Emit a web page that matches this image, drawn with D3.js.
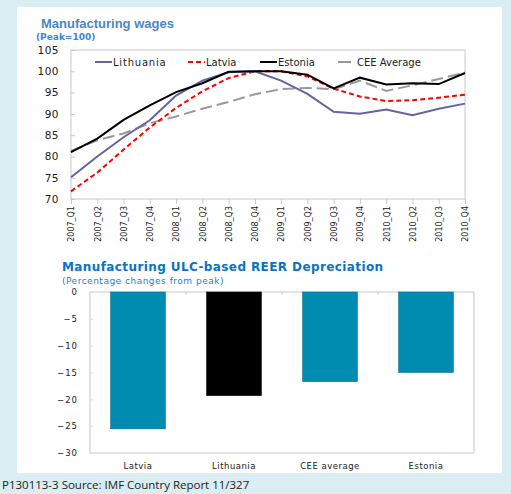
<!DOCTYPE html>
<html><head><meta charset="utf-8">
<script src="https://cdnjs.cloudflare.com/ajax/libs/d3/7.8.5/d3.min.js"></script>
<style>body{margin:0;background:#daedf3;}svg{display:block;}</style>
</head><body>
<svg id="c" width="511" height="494"></svg>
<script>
const quarters = ["2007_Q1","2007_Q2","2007_Q3","2007_Q4","2008_Q1","2008_Q2","2008_Q3","2008_Q4","2009_Q1","2009_Q2","2009_Q3","2009_Q4","2010_Q1","2010_Q2","2010_Q3","2010_Q4"];
const lithuania = [75.1,80.0,84.5,88.5,94.3,97.8,99.8,100,97.8,94.7,90.5,90.0,91.0,89.7,91.2,92.4];
const latvia    = [71.8,76.2,81.6,86.8,91.4,95.3,98.4,100,100,98.8,95.9,94.1,93.0,93.2,93.8,94.5];
const estonia   = [81.0,84.2,88.6,92.0,95.1,97.2,99.9,100,100,99.2,96.0,98.5,96.9,97.2,97.0,99.6];
const ceeAvg    = [81.3,83.8,85.4,87.8,89.4,91.2,92.8,94.6,95.8,96.1,95.8,97.8,95.4,96.7,98.2,99.7];
const wageTicks = [70,75,80,85,90,95,100,105];

const reerCats = ["Latvia","Lithuania","CEE average","Estonia"];
const reerVals = [-25.5,-19.3,-16.7,-15.0];
const reerTicks = [0,-5,-10,-15,-20,-25,-30];

const svg = d3.select("#c");
svg.append("rect").attr("x",17).attr("y",7).attr("width",485).attr("height",466).attr("fill","#fff");

// ---------- Top chart ----------
const L = {l:71, r:465, t:50, b:199};
const x1 = d3.scalePoint().domain(quarters).range([L.l, L.r]);
const y1 = d3.scaleLinear().domain([70,105]).range([L.b, L.t]);

svg.append("text").attr("x",41).attr("y",28).attr("font-family","Liberation Sans, Arial, sans-serif")
  .attr("font-size",13).attr("font-weight","bold").attr("fill","#4a86c8").text("Manufacturing wages");
svg.append("text").attr("x",36).attr("y",39.5).attr("font-family","DejaVu Sans, sans-serif")
  .attr("font-size",9).attr("font-weight","bold").attr("fill","#3b86d0").text("(Peak=100)");

svg.append("rect").attr("x",L.l).attr("y",L.t).attr("width",L.r-L.l).attr("height",L.b-L.t)
  .attr("fill","none").attr("stroke","#c8c8c8");

const yAx1 = svg.append("g").attr("transform",`translate(${L.l},0)`)
  .call(d3.axisLeft(y1).tickValues(wageTicks).tickSize(-4).tickPadding(12));
yAx1.select(".domain").remove();
yAx1.selectAll("line").attr("stroke","#c8c8c8");
yAx1.selectAll("text").attr("font-family","DejaVu Sans, sans-serif").attr("font-size",10.5).attr("fill","#222").attr("letter-spacing","0.5");

const xAx1 = svg.append("g").attr("transform",`translate(0,${L.b})`)
  .call(d3.axisBottom(x1).tickSize(5).tickPadding(3));
xAx1.select(".domain").remove();
xAx1.selectAll("line").attr("stroke","#c8c8c8");
xAx1.selectAll("text").attr("font-family","DejaVu Sans, sans-serif").attr("font-size",8).attr("fill","#222")
  .attr("text-anchor","end").attr("dy","0.35em").attr("transform","translate(0,7) rotate(-90)").attr("x",0).attr("y",0);

const series = [
  {name:"CEE Average", vals:ceeAvg, color:"#999", dash:"12,5", w:2},
  {name:"Latvia", vals:latvia, color:"#ff0000", dash:"5,3", w:2},
  {name:"Lithuania", vals:lithuania, color:"#6464a0", dash:null, w:2},
  {name:"Estonia", vals:estonia, color:"#000", dash:null, w:2},
];
const line = d3.line().x((d,i)=>x1(quarters[i])).y(d=>y1(d));
series.forEach(s=>{
  svg.append("path").datum(s.vals).attr("d",line).attr("fill","none")
    .attr("stroke",s.color).attr("stroke-width",s.w).attr("stroke-dasharray",s.dash);
});

const legend = [
  {name:"Lithuania", color:"#6464a0", dash:null, x:95},
  {name:"Latvia", color:"#ff0000", dash:"5,3", x:188},
  {name:"Estonia", color:"#000", dash:null, x:260},
  {name:"CEE Average", color:"#999", dash:null, x:338},
];
legend.forEach(g=>{
  svg.append("line").attr("x1",g.x).attr("x2",g.x+(g.name==="CEE Average"?13:17)).attr("y1",62).attr("y2",62)
    .attr("stroke",g.color).attr("stroke-width",2).attr("stroke-dasharray",g.dash);
  svg.append("text").attr("x",g.x+(g.name==="CEE Average"?19:18)).attr("y",66).attr("font-family","DejaVu Sans, sans-serif")
    .attr("font-size",10).attr("fill","#222").attr("letter-spacing",g.name==="Lithuania"?"0.8":"0").text(g.name);
});

// ---------- Bottom chart ----------
const B = {l:90, r:474, t:292, b:453};
const x2 = d3.scaleBand().domain(reerCats).range([B.l,B.r]).paddingInner(0.43).paddingOuter(0.215);
const y2 = d3.scaleLinear().domain([-30,0]).range([B.b,B.t]);

svg.append("text").attr("x",62).attr("y",271).attr("font-family","DejaVu Sans, sans-serif")
  .attr("font-size",12).attr("font-weight","bold").attr("fill","#0a72c0").attr("letter-spacing","0.4")
  .text("Manufacturing ULC-based REER Depreciation");
svg.append("text").attr("x",62).attr("y",283.5).attr("font-family","DejaVu Sans, sans-serif")
  .attr("font-size",9).attr("fill","#1a7fd0").attr("letter-spacing","0.5").text("(Percentage changes from peak)");

svg.append("rect").attr("x",B.l).attr("y",B.t).attr("width",B.r-B.l).attr("height",B.b-B.t)
  .attr("fill","none").attr("stroke","#c8c8c8");

const yAx2 = svg.append("g").attr("transform",`translate(${B.l},0)`)
  .call(d3.axisLeft(y2).tickValues(reerTicks).tickSize(-3).tickPadding(12).tickFormat(d=>d===0?"0":d3.format("d")(d)));
yAx2.select(".domain").remove();
yAx2.selectAll("line").attr("stroke","#ddd");
yAx2.selectAll("text").attr("font-family","DejaVu Sans, sans-serif").attr("font-size",8.5).attr("fill","#222").attr("letter-spacing","1");

svg.selectAll(".bar").data(reerVals).enter().append("rect")
  .attr("x",(d,i)=>x2(reerCats[i])).attr("width",x2.bandwidth())
  .attr("y",y2(0)).attr("height",d=>y2(d)-y2(0))
  .attr("fill",(d,i)=>reerCats[i]==="Lithuania"?"#000":"#008bb0")
  .attr("stroke",(d,i)=>reerCats[i]==="Lithuania"?"#000":"#0b6f8c").attr("stroke-width",0.6);

// category boundary ticks at top
const step = x2.step();
reerCats.slice(1).forEach((c,i)=>{
  const bx = x2(c) - x2.paddingInner()*step/2;
  svg.append("line").attr("x1",bx).attr("x2",bx).attr("y1",B.t).attr("y2",B.t+3).attr("stroke","#ccc");
});

svg.append("g").selectAll("text").data(reerCats).enter().append("text")
  .attr("x",d=>x2(d)+x2.bandwidth()/2).attr("y",469).attr("text-anchor","middle")
  .attr("font-family","DejaVu Sans, sans-serif").attr("font-size",8.5).attr("fill","#222").attr("letter-spacing","0.5")
  .text(d=>d);

svg.append("text").attr("x",2).attr("y",489).attr("font-family","Open Sans, Liberation Sans, sans-serif")
  .attr("font-size",11.5).attr("fill","#222").text("P130113-3 Source: IMF Country Report 11/327");
</script>
</body></html>
